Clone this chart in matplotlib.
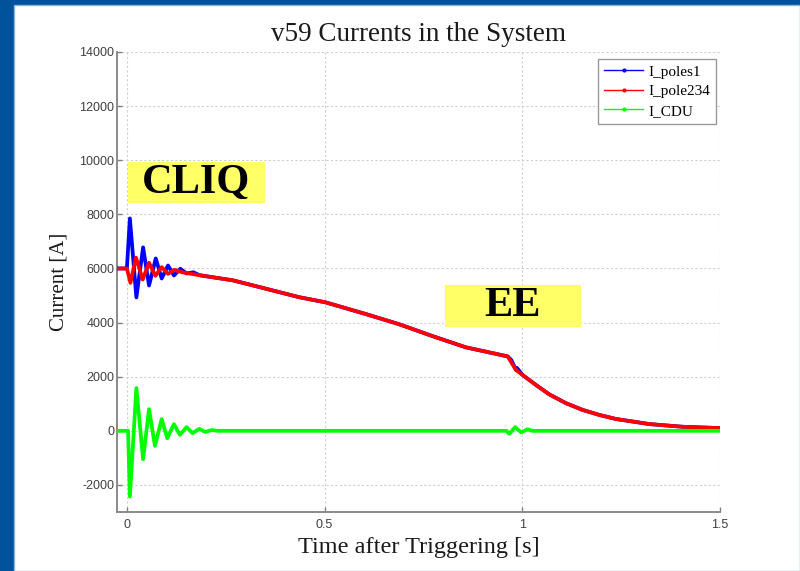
import numpy as np
import matplotlib
matplotlib.use("Agg")
import matplotlib.pyplot as plt
from matplotlib.lines import Line2D
from matplotlib.patches import Rectangle

# ---- data (time in s, current in A) ----
# pole 1 current: CLIQ-induced oscillation at the start
t_poles1_osc = [-0.025, 0.0, 0.0076, 0.024, 0.041, 0.056, 0.073, 0.088, 0.104, 0.119, 0.135, 0.151, 0.168]
i_poles1_osc = [6000, 6000, 7850, 4930, 6780, 5370, 6370, 5630, 6110, 5740, 5990, 5815, 5860]
# pole 1 small deviation when the energy extraction opens
t_poles1_ee = [0.972, 0.986, 0.995]
i_poles1_ee = [2620, 2330, 2170]

# poles 2-4 current: oscillation at the start
t_pole234_osc = [-0.025, 0.0, 0.009, 0.023, 0.040, 0.056, 0.072, 0.088, 0.104, 0.120, 0.140]
i_pole234_osc = [6000, 6000, 5470, 6400, 5590, 6210, 5730, 6050, 5800, 5950, 5860]

# common decay of the magnet current
t_decay = [0.184, 0.268, 0.352, 0.436, 0.502, 0.605, 0.689, 0.773, 0.857, 0.963,
           0.984, 1.001, 1.035, 1.068, 1.110, 1.152, 1.194, 1.237, 1.321, 1.405, 1.5]
i_decay = [5750, 5562, 5250, 4937, 4750, 4312, 3937, 3500, 3087, 2750,
           2250, 2060, 1690, 1350, 1025, 775, 590, 437, 250, 150, 100]

# CDU current
t_cdu = [-0.025, 0.003, 0.0076, 0.024, 0.041, 0.056, 0.071, 0.088, 0.102, 0.119, 0.134,
         0.151, 0.166, 0.183, 0.198, 0.215, 0.230, 0.960, 0.967, 0.982, 0.997, 1.013, 1.025, 1.5]
i_cdu = [0, 0, -2430, 1580, -1050, 800, -556, 432, -272, 247, -148,
         136, -86, 74, -40, 30, 0, 0, -110, 135, -60, 60, 0, 0]

series_names = ["I_poles1", "I_pole234", "I_CDU"]
series_colors = ["#0000ff", "#ff0000", "#00ff00"]

x_ticks = [0, 0.5, 1, 1.5]
x_tick_labels = ["0", "0.5", "1", "1.5"]
y_ticks = [-2000, 0, 2000, 4000, 6000, 8000, 10000, 12000, 14000]


def merge(*parts):
    t = np.concatenate([np.asarray(p[0], float) for p in parts])
    y = np.concatenate([np.asarray(p[1], float) for p in parts])
    order = np.argsort(t, kind="stable")
    return t[order], y[order]


t_b, i_b = merge((t_poles1_osc, i_poles1_osc), (t_decay, i_decay), (t_poles1_ee, i_poles1_ee))
t_r, i_r = merge((t_pole234_osc, i_pole234_osc), (t_decay, i_decay))
t_g, i_g = np.asarray(t_cdu, float), np.asarray(i_cdu, float)

W, H = 800, 571
fig = plt.figure(figsize=(W / 100, H / 100), dpi=100)
fig.patch.set_facecolor("#00529b")


def px(x0, y0, x1, y1):
    """pixel box (from top-left) -> figure fraction [l, b, w, h]"""
    return [x0 / W, 1 - y1 / H, (x1 - x0) / W, (y1 - y0) / H]


# white slide area with a light edge
l, b, w, h = px(14, 5, 800, 571)
fig.patches.append(Rectangle((l, b), w, h, transform=fig.transFigure,
                             facecolor="white", edgecolor="#8fb4dc", lw=1.0, zorder=-10))

ax = fig.add_axes(px(117, 52, 720, 512))
ax.set_zorder(1)
ax.set_facecolor("white")

ax.plot(t_b, i_b, color=series_colors[0], lw=2.7, solid_joinstyle="round", zorder=3)
ax.plot(t_r, i_r, color=series_colors[1], lw=2.7, solid_joinstyle="round", zorder=4)
ax.plot(t_g, i_g, color=series_colors[2], lw=2.7, solid_joinstyle="round", zorder=5)

ax.set_xlim(-0.025, 1.5)
ax.set_ylim(-3000, 14000)
ax.set_xticks(x_ticks)
ax.set_xticklabels(x_tick_labels)
ax.set_yticks(y_ticks)
ax.set_yticklabels([str(v) for v in y_ticks])

for lab in ax.get_xticklabels() + ax.get_yticklabels():
    lab.set_fontfamily("Liberation Sans")
    lab.set_fontsize(9)
    lab.set_color("#404040")
ax.tick_params(direction="in", length=3.5, width=1.0, color="#808080")
ax.tick_params(axis="y", pad=2)
ax.tick_params(axis="x", pad=5)

ax.grid(True, color="#cfcfcf", lw=0.8, linestyle=(0, (2, 2)))
ax.set_axisbelow(True)
for side in ["top", "right"]:
    ax.spines[side].set_visible(False)
for side in ["left", "bottom"]:
    ax.spines[side].set_color("#8a8a8a")
    ax.spines[side].set_linewidth(1.4)

serif = "Liberation Serif"
ax.set_title("v59 Currents in the System", fontfamily=serif, fontsize=19.5, color="#1a1a1a", pad=8)
ax.set_xlabel("Time after Triggering [s]", fontfamily=serif, fontsize=17.5, color="#1a1a1a", labelpad=4)
ax.set_ylabel("Current [A]", fontfamily=serif, fontsize=15, color="#1a1a1a", labelpad=8)

handles = [Line2D([0], [0], color=c, lw=1.0, marker=".", markersize=4) for c in series_colors]
leg = ax.legend(handles, series_names, loc="upper right",
                bbox_to_anchor=(716 / W, 1 - 59 / H), bbox_transform=fig.transFigure,
                borderaxespad=0,
                prop={"family": serif, "size": 11}, frameon=True, fancybox=False,
                handlelength=2.6, handletextpad=0.3, labelspacing=0.38,
                borderpad=0.4, framealpha=1)
leg.get_frame().set_edgecolor("#999999")
leg.get_frame().set_linewidth(1.0)

# highlighted labels for the two protection phases
for text, (x0, y0, x1, y1) in [("CLIQ", (128, 162, 265, 203)), ("EE", (445, 285, 581, 327))]:
    l, b, w, h = px(x0, y0, x1, y1)
    fig.patches.append(Rectangle((l, b), w, h, transform=fig.transFigure,
                                 facecolor="#ffff66", edgecolor="none", zorder=6))
    fig.text(l + w / 2, b + h / 2, text, ha="center", va="center",
             fontfamily=serif, fontweight="bold", fontsize=30.5, color="black", zorder=7)

fig.savefig("out.png", dpi=100, facecolor=fig.get_facecolor())
